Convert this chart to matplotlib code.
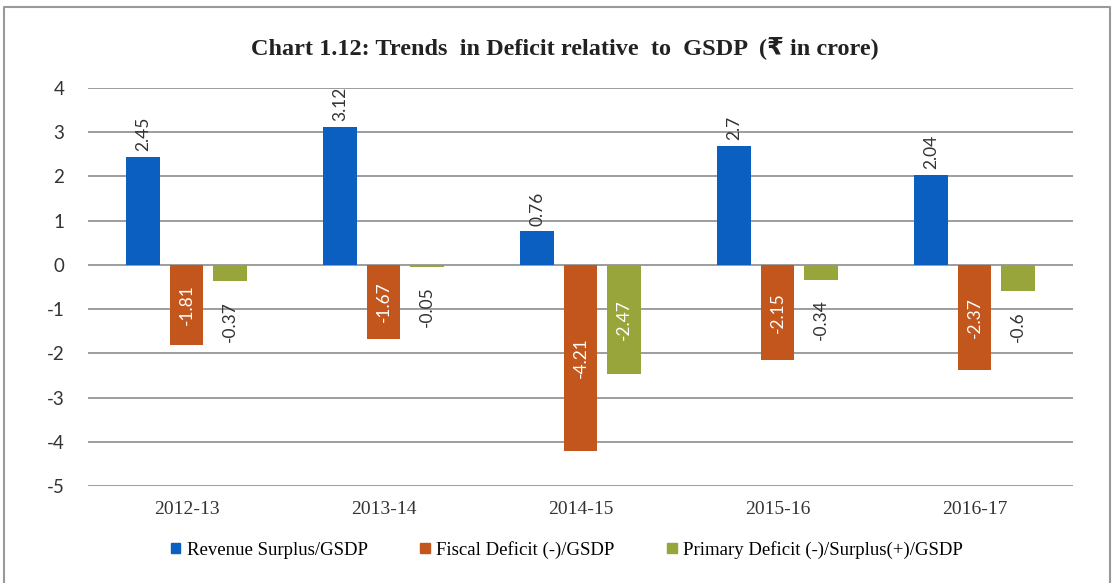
import numpy as np
import matplotlib.pyplot as plt
from matplotlib.patches import Rectangle
from matplotlib.lines import Line2D

# datos del grafico
years = ["2012-13", "2013-14", "2014-15", "2015-16", "2016-17"]
revenue = [2.45, 3.12, 0.76, 2.7, 2.04]
fiscal = [-1.81, -1.67, -4.21, -2.15, -2.37]
primary = [-0.37, -0.05, -2.47, -0.34, -0.6]
series_names = ["Revenue Surplus/GSDP", "Fiscal Deficit (-)/GSDP",
                "Primary Deficit (-)/Surplus(+)/GSDP"]
colores = ["#0B5FC1", "#C2561C", "#97A53B"]

serif = ["Liberation Serif", "DejaVu Serif"]
sans = "Lato"

fig = plt.figure(figsize=(11.16, 5.83), dpi=100)
ax = fig.add_axes([0.0789, 0.1664, 0.8826, 0.6826])

# marco exterior (sin borde inferior)
fig.add_artist(Line2D([0.004, 0.004, 0.9945, 0.9945], [0.0, 0.988, 0.988, 0.0],
                      transform=fig.transFigure, color="#999999", lw=1.5))

x = np.arange(len(years))
ancho = 0.17
desp = 0.22
datos = [revenue, fiscal, primary]

for i, (vals, c) in enumerate(zip(datos, colores)):
    pos = x + (i - 1) * desp
    ax.bar(pos, vals, width=ancho, color=c, zorder=3, label=series_names[i])
    for px, v in zip(pos, vals):
        if v >= 0:
            ax.annotate(f"{v:g}", (px, v), xytext=(0, 4), textcoords="offset points",
                        rotation=90, ha="center", va="bottom", fontsize=12.5,
                        family=sans, color="#333333")
        elif v < -1.5:
            ax.text(px, v / 2, f"{v:g}", rotation=90, ha="center", va="center",
                    fontsize=12.5, family=sans, color="white", zorder=4)
        else:
            ax.annotate(f"{v:g}", (px, v), xytext=(0, -14), textcoords="offset points",
                        rotation=90, ha="center", va="top", fontsize=12.5,
                        family=sans, color="#333333")

ax.set_xlim(-0.5, 4.5)
ax.set_ylim(-5, 4)
ax.set_yticks(range(-5, 5))
ax.set_yticklabels([str(t) for t in range(-5, 5)], family=sans, fontsize=13.5, color="#333333")
ax.set_xticks(x)
ax.set_xticklabels(years, family=serif, fontsize=14, color="#333333")
ax.tick_params(axis="y", length=0, pad=17)
ax.tick_params(axis="x", length=0, pad=11)
ax.grid(axis="y", color="#8c8c8c", lw=1.2, zorder=1)
for s in ax.spines.values():
    s.set_visible(False)

fig.text(0.506, 0.918, "Chart 1.12: Trends  in Deficit relative  to  GSDP  (\u20b9 in crore)",
         ha="center", va="center", fontsize=17.5, fontweight="bold",
         family=["Liberation Serif", "DejaVu Sans"], color="#222222")

handles = [Rectangle((0, 0), 1, 1, color=c) for c in colores]
fig.legend(handles, series_names, loc="center", bbox_to_anchor=(0.508, 0.057),
           ncol=3, frameon=False, prop={"family": serif, "size": 13.5},
           handlelength=0.5, handleheight=0.5, handletextpad=0.35, columnspacing=2.8)

fig.savefig("out.png", dpi=100)
